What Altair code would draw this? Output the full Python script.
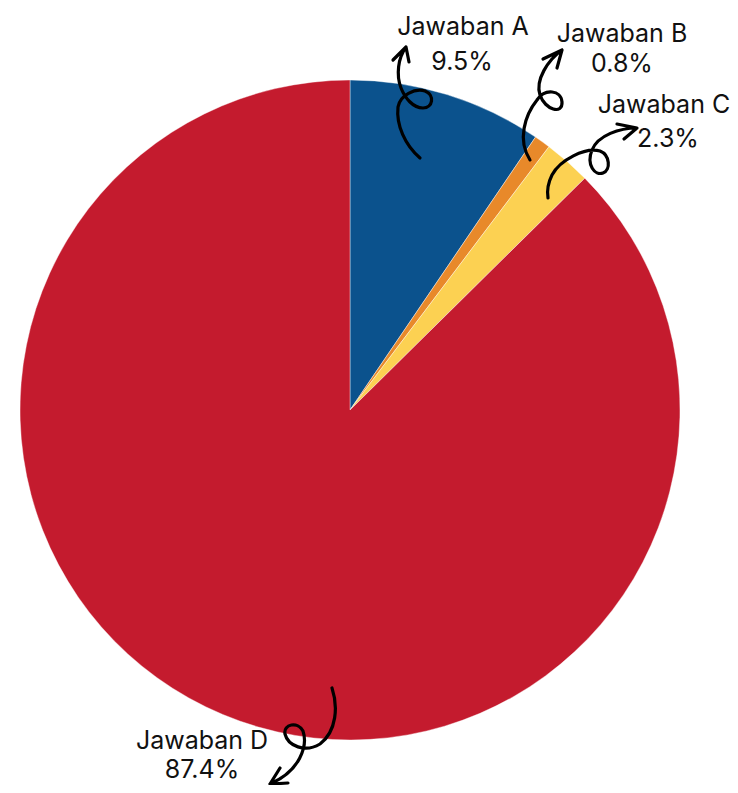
import altair as alt
import pandas as pd

# ---- data ----
categories = ["Jawaban A", "Jawaban B", "Jawaban C", "Jawaban D"]
percents = [9.5, 0.8, 2.3, 87.4]
pct_labels = ["9.5%", "0.8%", "2.3%", "87.4%"]
colors = ["#0b528d", "#e8892a", "#fcd152", "#c41b2e"]

# ---- layout (page pixel coordinates; page margin 8px) ----
OFF = 8
cx, cy, R = 350 - OFF, 410 - OFF, 330
name_x = [463, 622, 664, 202]
name_y = [35, 42, 113, 749]
pct_x = [462, 622, 668, 202]
pct_y = [70, 72, 147, 778]
FS = 25
FONT = "Inter"

df = pd.DataFrame({"cat": categories, "pct": percents, "order": range(len(categories))})

pie = alt.Chart(df).mark_arc(outerRadius=R, stroke="#ffffff", strokeWidth=0.4).encode(
    theta=alt.Theta("pct:Q", stack=True),
    order=alt.Order("order:Q"),
    color=alt.Color("cat:N", scale=alt.Scale(domain=categories, range=colors), legend=None),
    x=alt.value(cx),
    y=alt.value(cy),
)

lab = pd.DataFrame({
    "name": categories, "pct": pct_labels,
    "nx": [v - OFF for v in name_x], "ny": [v - OFF for v in name_y],
    "px": [v - OFF for v in pct_x], "py": [v - OFF for v in pct_y],
})

names = alt.Chart(lab).mark_text(font=FONT, fontSize=FS, color="#111111", align="center", baseline="alphabetic").encode(
    x=alt.X("nx:Q", scale=None), y=alt.Y("ny:Q", scale=None), text="name:N"
)
pcts = alt.Chart(lab).mark_text(font=FONT, fontSize=FS, color="#111111", align="center", baseline="alphabetic").encode(
    x=alt.X("px:Q", scale=None), y=alt.Y("py:Q", scale=None), text="pct:N"
)

# ---- decorative curly arrows (SVG paths in page pixels, drawn as custom point shapes) ----
arrow_paths = [
    "M 420 158 C 405 145 396 125 398 107 C 400 95 415 88 425 91 C 435 95 433 108 423 108 "
    "C 413 108 405 98 401 88 C 396 75 398 58 406 47 M 393 60 L 406 47 L 409 62",
    "M 530 160 C 517 140 525 115 537 100 C 545 88 561 90 562 102 C 563 115 545 110 540 95 "
    "C 535 80 548 60 562 50 M 543 59 L 562 50 L 557 68",
    "M 548 198 C 547 192 548 183 552 175 C 560 160 585 147 600 151 C 610 155 611 170 603 173 "
    "C 595 176 586 165 592 150 C 598 135 620 128 637 128 M 617 124 L 637 128 L 624 139",
    "M 332 692 C 338 710 337 735 320 748 C 305 757 288 750 285 738 C 283 728 298 725 303 735 "
    "C 308 750 300 775 270 788 M 280 772 L 270 788 L 288 787",
]
arrow_dy = [0, 0, 0, -4]

arrows = []
for p, dy in zip(arrow_paths, arrow_dy):
    arrows.append(
        alt.Chart(pd.DataFrame({"k": [0]})).mark_point(
            shape=p, size=4, filled=False, stroke="#000000", strokeWidth=3.2,
            strokeCap="round", strokeJoin="round", opacity=1,
        ).encode(x=alt.value(-OFF), y=alt.value(-OFF + dy))
    )

chart = alt.layer(pie, *arrows, names, pcts).properties(
    width=722, height=777, autosize="none", padding=0
).configure_view(stroke=None)

chart.save("out.html", embed_options={"renderer": "svg", "actions": False})
